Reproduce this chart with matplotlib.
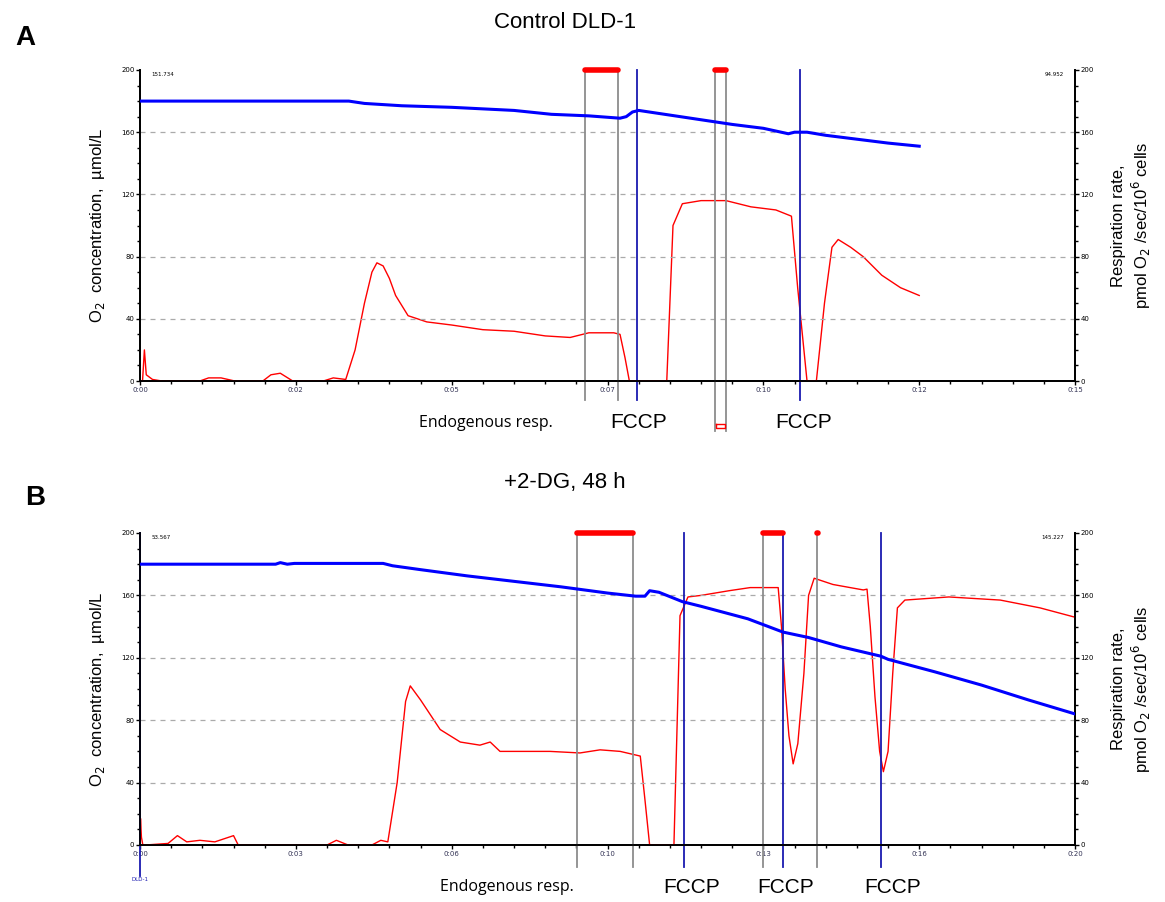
import matplotlib.pyplot as plt
from matplotlib.ticker import MultipleLocator, FixedLocator, FixedFormatter
from matplotlib.transforms import blended_transform_factory

RED = "#FF0000"
BLUE = "#0000FF"
NAVY = "#1A1AB0"
GRAY = "#8C8C8C"

# ---- panel A: control ----
A_o2_t = [0, 3.35, 3.6, 4.2, 5.0, 6.0, 6.6, 7.2, 7.7, 7.8, 7.9, 8.0, 8.5, 9.0,
          9.5, 10.0, 10.4, 10.5, 10.7, 11.0, 11.5, 12.0, 12.5]
A_o2 = [180, 180, 178.5, 177, 176, 174, 171.5, 170.5, 169, 170, 173, 174, 171,
        168, 165, 162.5, 159, 160, 160, 158, 155.5, 153, 151]

A_resp_t = [0, 0.04, 0.07, 0.1, 0.2, 0.35, 0.96, 1.1, 1.3, 1.52, 1.97, 2.1, 2.25,
            2.45, 2.94, 3.1, 3.3, 3.45, 3.6, 3.72, 3.8, 3.9, 4.0, 4.1, 4.3, 4.6,
            5.0, 5.5, 6.0, 6.5, 6.9, 7.2, 7.6, 7.7, 7.78, 7.85, 8.45, 8.55, 8.7,
            9.0, 9.4, 9.8, 10.2, 10.45, 10.55, 10.7, 10.85, 10.98, 11.1, 11.2,
            11.4, 11.6, 11.9, 12.2, 12.5]
A_resp = [0, 0, 20, 4, 1, 0, 0, 2, 2, 0, 0, 4, 5,
          0, 0, 2, 1, 20, 50, 70, 76, 74, 66, 55, 42, 38,
          36, 33, 32, 29, 28, 31, 31, 30, 15, 0, 0, 100, 114,
          116, 116, 112, 110, 106, 60, 0, 0, 50, 86, 91,
          86, 80, 68, 60, 55]

A_gray = [7.14, 7.67, 9.22, 9.40]
A_fccp = [7.97, 10.59]
A_marks = [(7.14, 7.67), (9.22, 9.40)]
A_xticks = [0, 2.5, 5, 7.5, 10, 12.5, 15]
A_xlabels = ["0:00", "0:02", "0:05", "0:07", "0:10", "0:12", "0:15"]

# ---- panel B: +2-DG 48 h ----
B_o2_t = [0, 2.9, 3.0, 3.15, 3.3, 5.2, 5.4, 6.0, 7.0, 8.0, 9.0, 10.0, 10.6, 10.8,
          10.9, 11.1, 11.6, 12.0, 13.0, 13.75, 14.3, 15.0, 15.85, 16.0, 17.0,
          18.0, 19.0, 20.0]
B_o2 = [180, 180, 181, 180, 180.5, 180.5, 179, 176.5, 172.5, 169, 165.5, 161.5,
        159.5, 159.5, 163, 162, 156, 153, 145, 136.5, 133, 127, 121, 119, 111,
        102.5, 93, 84]

B_resp_t = [0, 0.01, 0.03, 0.06, 0.12, 0.6, 0.8, 1.0, 1.28, 1.6, 2.0, 2.1, 2.5,
            4.0, 4.2, 4.45, 4.96, 5.15, 5.3, 5.5, 5.68, 5.78, 6.0, 6.42, 6.85, 7.27,
            7.49, 7.7, 8.77, 9.41, 9.84, 10.27, 10.7, 10.8, 10.9, 11.42, 11.55,
            11.72, 12.0, 12.6, 13.05, 13.65, 13.72, 13.8, 13.88, 13.97, 14.07,
            14.2, 14.3, 14.42, 14.82, 15.19, 15.47, 15.55, 15.62, 15.72, 15.82,
            15.9, 16.0, 16.1, 16.2, 16.36, 17.3, 18.4, 19.25, 20.0]
B_resp = [0, 17, 5, 0, 0, 1, 6, 2, 3, 2, 6, 0, 0,
          0, 3, 0, 0, 3, 2, 40, 92, 102, 93, 74, 66, 64,
          66, 60, 60, 59, 61, 60, 57, 29, 0, 0, 147,
          159, 160, 163, 165, 165, 140, 100, 70, 52, 65,
          110, 160, 171, 167, 165, 163.5, 164, 140, 95, 60,
          47, 60, 110, 152, 157, 159, 157, 152, 146]

B_gray = [9.35, 10.55, 13.33, 14.48]
B_fccp = [11.64, 13.75, 15.85]
B_marks = [(9.35, 10.55), (13.33, 13.75), (14.48, 14.50)]
B_xticks = [0, 20 / 6, 40 / 6, 10, 80 / 6, 100 / 6, 20]
B_xlabels = ["0:00", "0:03", "0:06", "0:10", "0:13", "0:16", "0:20"]

fig = plt.figure(figsize=(11.65, 9.02), dpi=100)


def make_panel(rect, xmax, xticks, xlabels, o2_t, o2, resp_t, resp, grays,
               fccps, marks, fccp_x, endo_x, corner_l, corner_r, gray_low):
    ax = fig.add_axes(rect)
    ax2 = ax.twinx()
    for a in (ax, ax2):
        a.set_xlim(0, xmax)
        a.set_ylim(0, 200)
        a.yaxis.set_major_locator(MultipleLocator(40))
        a.yaxis.set_minor_locator(MultipleLocator(10))
        a.tick_params(which="major", length=3, width=1, labelsize=5, pad=1)
        a.tick_params(which="minor", length=2, width=1)
        a.spines["top"].set_visible(False)
        for s in ("left", "right", "bottom"):
            a.spines[s].set_linewidth(1.3)
    ax.xaxis.set_major_locator(FixedLocator(xticks))
    ax.xaxis.set_major_formatter(FixedFormatter(xlabels))
    ax.xaxis.set_minor_locator(MultipleLocator(xticks[1] / 5))
    ax.tick_params(axis="x", labelcolor="#333355")
    for v in (40, 80, 120, 160):
        ax.axhline(v, color="#AAAAAA", lw=0.9, ls=(0, (4, 4)), zorder=0)

    trans = blended_transform_factory(ax.transData, ax.transAxes)
    for i, g in enumerate(grays):
        ax.axvline(g, ymin=gray_low[i], ymax=1, color=GRAY, lw=1.3, clip_on=False)
    for f in fccps:
        ax.axvline(f, ymin=gray_low[0], ymax=1, color=NAVY, lw=1.3, clip_on=False)
    for t0, t1 in marks:
        ax.plot([t0, t1], [1.0, 1.0], color=RED, lw=4, solid_capstyle="round",
                transform=trans, clip_on=False)

    ax2.plot(resp_t, resp, color=RED, lw=1.0, zorder=3)
    ax.plot(o2_t, o2, color=BLUE, lw=2.2, zorder=4)
    ax.set_zorder(ax2.get_zorder() + 1)
    ax.patch.set_visible(False)

    ax.set_ylabel("O$_2$  concentration,  µmol/L", fontsize=12,
                  family="Liberation Sans", labelpad=10)
    ax2.set_ylabel("Respiration rate,\npmol O$_2$ /sec/10$^6$ cells", fontsize=12,
                   family="Liberation Sans", labelpad=12)
    ax.text(0.012, 0.985, corner_l, transform=ax.transAxes, fontsize=4,
            va="center", ha="left")
    ax.text(0.988, 0.985, corner_r, transform=ax.transAxes, fontsize=4,
            va="center", ha="right")
    ax.text(endo_x, -0.135, "Endogenous resp.", transform=trans, fontsize=11.5,
            family="Open Sans", ha="center", va="center")
    for fx in fccp_x:
        ax.text(fx, -0.135, "FCCP", transform=trans, fontsize=15,
                family="Liberation Sans", ha="center", va="center")
    return ax, trans


axA, transA = make_panel([0.1202, 0.5776, 0.8026, 0.3448], 15, A_xticks, A_xlabels,
                         A_o2_t, A_o2, A_resp_t, A_resp, A_gray, A_fccp, A_marks,
                         [8.0, 10.65], 5.55, "151.734", "94.952",
                         [-0.06, -0.06, -0.16, -0.16])
# small red box between the second pair of grey lines
axA.plot([9.24, 9.38, 9.38, 9.24, 9.24], [-0.138, -0.138, -0.152, -0.152, -0.138],
         color=RED, lw=1, transform=transA, clip_on=False)

axB, transB = make_panel([0.1202, 0.0632, 0.8026, 0.3459], 20, B_xticks, B_xlabels,
                         B_o2_t, B_o2, B_resp_t, B_resp, B_gray, B_fccp, B_marks,
                         [11.8, 13.8, 16.1], 7.85, "53.567", "145.227",
                         [-0.07, -0.07, -0.07, -0.07])
axB.axvline(0, ymin=-0.1, ymax=1, color=NAVY, lw=1.3, clip_on=False)
axB.text(0.0, -0.11, "DLD-1", transform=transB, fontsize=4, color=NAVY,
         ha="center", va="center")

fig.text(0.485, 0.975, "Control DLD-1", fontsize=16, family="Liberation Sans",
         ha="center", va="center")
fig.text(0.485, 0.465, "+2-DG, 48 h", fontsize=16, family="Liberation Sans",
         ha="center", va="center")
fig.text(0.022, 0.958, "A", fontsize=20, weight="bold", family="Liberation Sans",
         ha="center", va="center")
fig.text(0.03, 0.448, "B", fontsize=20, weight="bold", family="Liberation Sans",
         ha="center", va="center")

fig.savefig("out.png", dpi=100)
